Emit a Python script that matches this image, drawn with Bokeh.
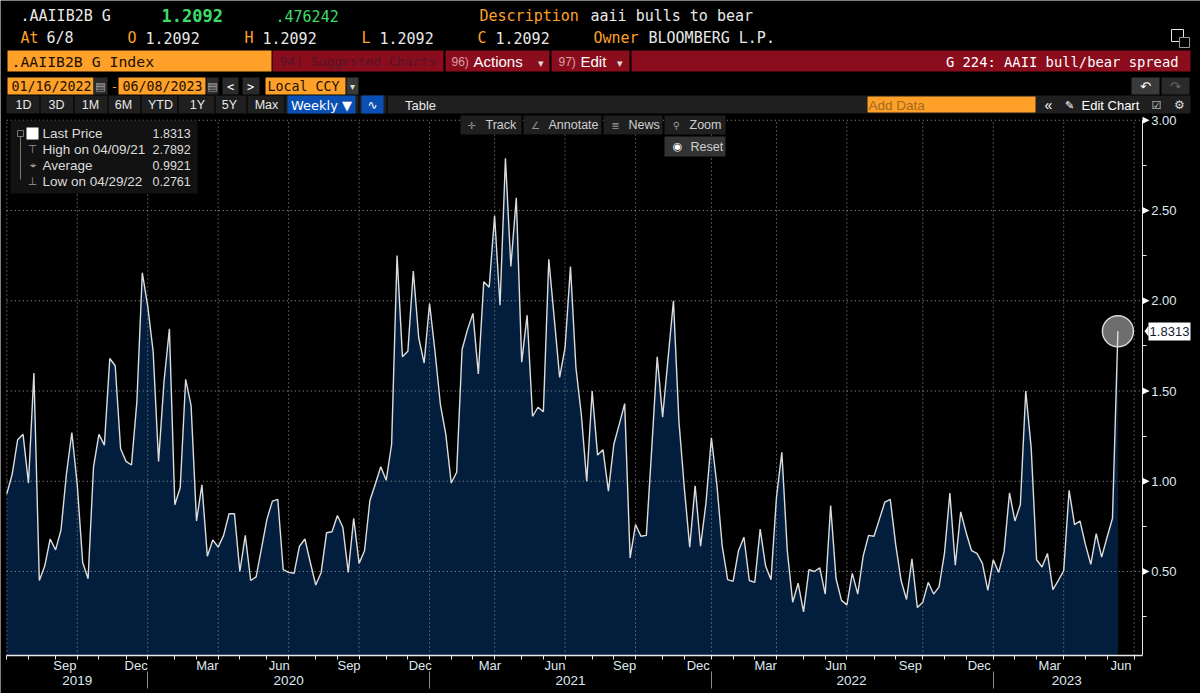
import pandas as pd
from bokeh.embed import file_html
from bokeh.resources import INLINE
from bokeh.plotting import figure
from bokeh.models import (BoxAnnotation, ColumnDataSource, DatetimeAxis, DatetimeTickFormatter, FixedTicker, Label,
                          LinearAxis, NumeralTickFormatter, PolyAnnotation, Range1d)

START_DATE = "2019-07-05"
VALUES = [
    0.93, 1.04, 1.23, 1.26, 0.99, 1.60, 0.45, 0.53, 0.68, 0.62, 0.73, 1.04, 1.27, 0.98, 0.55, 0.46, 1.08, 1.26,
    1.20, 1.68, 1.64, 1.18, 1.11, 1.09, 1.44, 2.155, 1.97, 1.72, 1.11, 1.55, 1.845, 0.87, 0.965, 1.565, 1.42,
    0.78, 0.98, 0.585, 0.675, 0.635, 0.70, 0.82, 0.82, 0.50, 0.70, 0.45, 0.47, 0.63, 0.79, 0.89, 0.90, 0.51,
    0.495, 0.49, 0.64, 0.68, 0.55, 0.425, 0.495, 0.715, 0.72, 0.81, 0.745, 0.495, 0.795, 0.545, 0.615, 0.895,
    0.985, 1.08, 1.005, 1.205, 2.25, 1.69, 1.72, 2.165, 1.795, 1.655, 1.985, 1.72, 1.425, 1.26, 0.99, 1.05,
    1.73, 1.84, 1.93, 1.595, 2.105, 2.075, 2.47, 1.975, 2.7892, 2.19, 2.57, 1.66, 1.92, 1.36, 1.41, 1.385,
    2.23, 1.905, 1.575, 1.74, 2.19, 1.63, 1.37, 1.0, 1.5, 1.145, 1.175, 0.945, 1.205, 1.315, 1.43, 0.575, 0.76,
    0.695, 0.70, 1.185, 1.69, 1.355, 1.68, 2.0, 1.335, 0.965, 0.635, 0.975, 0.64, 0.88, 1.24, 0.985, 0.64,
    0.455, 0.445, 0.615, 0.69, 0.45, 0.44, 0.735, 0.53, 0.455, 0.91, 1.16, 0.615, 0.33, 0.435, 0.2761, 0.51,
    0.50, 0.52, 0.375, 0.865, 0.46, 0.34, 0.315, 0.49, 0.375, 0.585, 0.70, 0.695, 0.79, 0.885, 0.90, 0.65,
    0.45, 0.345, 0.57, 0.30, 0.33, 0.44, 0.375, 0.415, 0.60, 0.935, 0.535, 0.83, 0.715, 0.615, 0.60, 0.545,
    0.395, 0.565, 0.495, 0.61, 0.935, 0.78, 0.87, 1.50, 1.185, 0.565, 0.525, 0.60, 0.40, 0.45, 0.505, 0.95,
    0.76, 0.78, 0.65, 0.54, 0.71, 0.58, 0.69, 0.795, 1.8313,
]
GRID_WEEKS = [0, 13, 26, 39, 52, 65, 78, 90, 103, 116, 130, 142, 155, 169, 182, 195, 208]
MONTH_WEEKS = [4, 9, 17, 22, 31, 35, 43, 48, 57, 61, 70, 74, 82, 86, 95, 99, 108, 112, 121, 125, 134, 138, 147,
               151, 160, 164, 173, 177, 186, 190, 199, 203]
MONTH_LABEL_DATES = ["2019-09-18", "2019-12-19", "2020-03-20", "2020-06-21", "2020-09-19", "2020-12-20",
                     "2021-03-20", "2021-06-12", "2021-09-10", "2021-12-14", "2022-03-11", "2022-06-10",
                     "2022-09-14", "2022-12-12", "2023-03-13", "2023-06-13"]
YEAR_LABEL_DATES = ["2019-10-04", "2020-07-03", "2021-07-02", "2022-06-30", "2023-04-04"]
YEAR_SEP_DATES = ["2020-01-03", "2021-01-01", "2021-12-31", "2022-12-30"]
YTICKS = [0.5, 1.0, 1.5, 2.0, 2.5, 3.0]
YMINOR = [0.25, 0.75, 1.25, 1.75, 2.25, 2.75]

WEEK_MS = 7 * 86400000
dates = pd.date_range(START_DATE, periods=208 + 1, freq="7D")
ms = [d.value / 1e6 for d in dates]
xs = dates[: len(VALUES)]


def to_ms(s):
    return pd.Timestamp(s).value / 1e6


# the frame fills the whole page; these constants say where the chart sits in it
PX_PER_WEEK = 5.42
PX_PER_UNIT = 180.5
X_FIRST_PX = 6.3          # page x of the first weekly point
Y_HALF_PX = 571.0         # page y of the value 0.50
AXIS_RIGHT_PX = 1141.7
AXIS_BOTTOM_PX = 655.0
AXIS_TOP_PX = 119.5
YEAR_AXIS_PX = 671.0


def x_at(px):
    return ms[0] + (px - X_FIRST_PX) / PX_PER_WEEK * WEEK_MS


def y_at(py):
    return 0.5 + (Y_HALF_PX - py) / PX_PER_UNIT


BASE = y_at(AXIS_BOTTOM_PX)
TOP = y_at(AXIS_TOP_PX)
RIGHT = x_at(AXIS_RIGHT_PX)

MONO = "DejaVu Sans Mono"
SANS = "Liberation Sans"
SYMBOL = "DejaVu Sans"
ORANGE = "#ffa028"
RED = "#8a0c1d"
PANEL = "#1f1f1f"
BLUE = "#0a50b4"
AXIS = "#dfe8f0"
AXLINE = "#e8e8e8"
INK = "#201000"

p = figure(width=1200, height=693, output_backend="svg", toolbar_location=None, tools="",
           x_axis_type="datetime", x_axis_location=None, y_axis_location=None,
           x_range=Range1d(x_at(0), x_at(1200)), y_range=Range1d(y_at(693), y_at(0)),
           min_border_left=0, min_border_right=0, min_border_top=0, min_border_bottom=0,
           background_fill_color="black", border_fill_color="black", outline_line_color=None)
p.grid.visible = False

MONTH_FMT = dict.fromkeys(["years", "months", "days", "hours", "minutes", "seconds", "milliseconds", "minsec",
                           "hourmin"], "%b")
YEAR_FMT = {k: "%Y" for k in MONTH_FMT}

xa = DatetimeAxis(fixed_location=BASE, bounds=(ms[0], RIGHT),
                  ticker=FixedTicker(ticks=[to_ms(s) for s in MONTH_LABEL_DATES],
                                     minor_ticks=[ms[i] for i in GRID_WEEKS + MONTH_WEEKS]),
                  formatter=DatetimeTickFormatter(**MONTH_FMT),
                  axis_line_color=AXLINE, axis_line_width=1.5, major_tick_line_color=None,
                  minor_tick_line_color=AXLINE, minor_tick_out=4, minor_tick_in=0, major_label_standoff=-4,
                  major_label_text_color=AXIS, major_label_text_font=SANS, major_label_text_font_size="13px")
p.add_layout(xa, "below")

year_axis = DatetimeAxis(fixed_location=y_at(YEAR_AXIS_PX), bounds=(ms[0], RIGHT),
                         ticker=FixedTicker(ticks=[to_ms(s) for s in YEAR_LABEL_DATES],
                                            minor_ticks=[to_ms(s) for s in YEAR_SEP_DATES]),
                         formatter=DatetimeTickFormatter(**YEAR_FMT),
                         axis_line_color=None, major_tick_line_color=None, minor_tick_line_color="#8a8a8a",
                         minor_tick_out=17, minor_tick_in=0, major_label_standoff=-13,
                         major_label_text_color=AXIS, major_label_text_font=SANS,
                         major_label_text_font_size="13.5px")
p.add_layout(year_axis, "below")

ya = LinearAxis(fixed_location=RIGHT, bounds=(BASE, TOP),
                ticker=FixedTicker(ticks=YTICKS, minor_ticks=YMINOR),
                formatter=NumeralTickFormatter(format="0.00"),
                axis_line_color=AXLINE, major_tick_line_color=AXLINE, major_tick_out=6, major_tick_in=0,
                minor_tick_line_color=AXLINE, minor_tick_out=4, minor_tick_in=0, major_label_standoff=3,
                major_label_text_color=AXIS, major_label_text_font=SANS, major_label_text_font_size="13px")
p.add_layout(ya, "right")

src = ColumnDataSource(dict(x=xs, y=VALUES, y0=[BASE] * len(VALUES)))
p.varea(x="x", y1="y0", y2="y", source=src, fill_color="#031e3c", level="image")

GRID = dict(line_color="#9a9a9a", line_dash="1 3", line_width=1, level="underlay")
grid_x = [ms[i] for i in GRID_WEEKS]
p.segment(x0=grid_x, x1=grid_x, y0=[BASE] * len(grid_x), y1=[TOP] * len(grid_x), **GRID)
p.segment(x0=[ms[0]] * len(YTICKS), x1=[RIGHT] * len(YTICKS), y0=YTICKS, y1=YTICKS, **GRID)

p.scatter(x=[xs[-1]], y=[VALUES[-1]], size=31, fill_color="#6e6e6e", line_color="#d8d8d8", line_width=1.5)
p.line(x="x", y="y", source=src, line_color="#dcdcdc", line_width=1.4)


def box(l, t, r, b, fill, line=None):
    p.add_layout(BoxAnnotation(left=l, right=r, top=t, bottom=b, fill_color=fill, fill_alpha=1,
                               line_color=line, line_alpha=1 if line else 0,
                               left_units="canvas", right_units="canvas", top_units="canvas",
                               bottom_units="canvas"))


def txt(x, y, text, color="white", size=15, font=MONO, align="left", style="normal"):
    p.add_layout(Label(x=x, y=y, text=text, text_color=color, text_font_size=f"{size}px", text_font=font,
                       text_align=align, text_baseline="middle", text_font_style=style,
                       x_units="canvas", y_units="canvas"))


# header rows
txt(20, 15, ".AAIIB2B G", "#e8e8e8")
txt(161, 15, "1.2092", "#3ddc6a", 17, MONO, style="bold")
txt(275, 15, ".476242", "#3ddc6a")
txt(479, 15, "Description", ORANGE)
txt(590, 15, "aaii bulls to bear", "#e8e8e8")
txt(20, 37, "At", ORANGE)
txt(46, 37, "6/8", "#e8e8e8")
for lx, letter in zip([127, 244, 361, 477], "OHLC"):
    txt(lx, 37, letter, ORANGE)
    txt(lx + 18, 37, "1.2092", "#e8e8e8")
txt(593, 37, "Owner", ORANGE)
txt(648, 37, "BLOOMBERG L.P.", "#e8e8e8")
box(1171, 29, 1183, 41, "black", "#e8e8e8")
box(1179, 37, 1189, 47, "black", "#9a9a9a")

# title bar
box(7, 50, 271, 71, ORANGE)
txt(11, 61, ".AAIIB2B G Index", INK, 14.8)
box(272, 50, 443, 71, RED)
txt(279, 61, "94) Suggested Charts", "#551428", 13)
box(445, 50, 549, 71, RED)
txt(451, 61, "96)", "#d8a0a8", 12, SANS)
txt(473, 61, "Actions", "white", 15, SANS)
txt(540, 62, "▾", "#dddddd", 11, SANS, "center")
box(551, 50, 629, 71, RED)
txt(558, 61, "97)", "#d8a0a8", 12, SANS)
txt(580, 61, "Edit", "white", 15, SANS)
txt(619, 62, "▾", "#dddddd", 11, SANS, "center")
box(631, 50, 1190, 71, RED)
txt(1178, 61, "G 224: AAII bull/bear spread", "white", 13.8, MONO, "right")

# date row
box(7, 77, 93, 94, ORANGE)
txt(11, 86, "01/16/2022", INK, 13.3)
box(93, 77, 107, 94, "#2a2a2a")
txt(100, 86, "▤", "#aaaaaa", 11, SYMBOL, "center")
txt(114, 86, "-", ORANGE, 13, MONO, "center")
box(118, 77, 205, 94, ORANGE)
txt(122, 86, "06/08/2023", INK, 13.3)
box(206, 77, 218, 94, "#2a2a2a")
txt(212, 86, "▤", "#aaaaaa", 11, SYMBOL, "center")
box(222, 77, 238, 94, "#2a2a2a")
txt(230, 86, "<", "white", 12, MONO, "center")
box(242, 77, 259, 94, "#2a2a2a")
txt(250, 86, ">", "white", 12, MONO, "center")
box(265, 77, 345, 94, ORANGE)
txt(267, 86, "Local CCY", INK, 13.3)
box(346, 77, 358, 94, "#3a3a3a")
txt(352, 86, "▾", "#dddddd", 10, SANS, "center")
box(1131, 77, 1159, 94, "#3a3a3a")
txt(1145, 86, "↶", "white", 13, SYMBOL, "center")
box(1161, 77, 1189, 94, "#2a2a2a")
txt(1175, 86, "↷", "#666666", 13, SYMBOL, "center")

# range buttons row
box(6, 95, 1190, 113, PANEL)
for sep in [39, 73, 107, 140, 177, 214, 246, 284, 358, 386, 867]:
    box(sep, 95, sep + 1, 113, "#000000")
for bx, t in zip([23, 56, 90, 123, 160, 197, 229, 266], ["1D", "3D", "1M", "6M", "YTD", "1Y", "5Y", "Max"]):
    txt(bx, 104.5, t, "#e8e8e8", 12.5, SANS, "center")
box(287, 95, 355, 113, BLUE)
txt(321, 104.5, "Weekly ▼", "white", 13, SYMBOL, "center")
box(361, 95, 383, 113, BLUE)
txt(372, 104.5, "∿", "white", 12, SYMBOL, "center")
txt(420, 104.5, "Table", "#e8e8e8", 13, SANS, "center")
box(867, 96, 1035, 112, ORANGE)
txt(868, 104.5, "Add Data", "#a06a20", 13.5, SANS)
txt(1048, 104.5, "«", "white", 14, SANS, "center")
txt(1081, 104.5, "Edit Chart", "white", 13, SANS)
txt(1069, 104.5, "✎", "white", 11, SYMBOL, "center")
txt(1156, 104.5, "☑", "#dddddd", 11, SYMBOL, "center")
txt(1179, 104.5, "⚙", "#dddddd", 12, SYMBOL, "center")

# chart tools
for l, r, ic, ix, t, tx in [(460, 521, "✛", 471, "Track", 485), (523, 601, "∠", 535, "Annotate", 548),
                            (603, 662, "≣", 615, "News", 628), (664, 725, "⚲", 676, "Zoom", 689)]:
    box(l, 115, r, 134, PANEL)
    txt(ix, 124.5, ic, "#999999", 10, SYMBOL, "center")
    txt(tx, 124.5, t, "#cfcfcf", 12.5, SANS)
box(664, 136, 725, 156, "#333333")
txt(677, 146, "◉", "white", 11, SYMBOL, "center")
txt(690, 146, "Reset", "#cfcfcf", 12.5, SANS)

# legend
box(10, 120, 197, 193, "#121212")
box(26, 127, 38, 139, "white")
for ly, t, val in [(133, "Last Price", "1.8313"), (149, "High on 04/09/21", "2.7892"),
                   (165, "Average", "0.9921"), (181, "Low on 04/29/22", "0.2761")]:
    txt(42, ly, t, "#dcdcdc", 13.5, SANS)
    txt(152, ly, val, "#dcdcdc", 12.5, SANS)
box(17, 130, 23, 136, "#121212", "#777777")
box(19.5, 136, 20.5, 179, "#777777")
for ly, ch in [(149, "⊤"), (165, "⌖"), (181, "⊥")]:
    txt(32, ly, ch, "#999999", 11, SYMBOL, "center")

# axis pointers
for v in YTICKS:
    p.add_layout(PolyAnnotation(xs=[1142, 1149, 1142], ys=[v - 0.02, v, v + 0.02], fill_color="white",
                                fill_alpha=1, line_color=None, xs_units="canvas"))

# last value tag
box(1148, 322, 1190, 340, "white")
p.add_layout(PolyAnnotation(xs=[1148, 1144, 1148], ys=[VALUES[-1] - 0.03, VALUES[-1], VALUES[-1] + 0.03],
                            fill_color="white", fill_alpha=1, line_color=None, xs_units="canvas"))
txt(1169, 331, "1.8313", "#10202c", 13, SANS, "center")

open("out.html", "w").write(file_html(p, INLINE))
